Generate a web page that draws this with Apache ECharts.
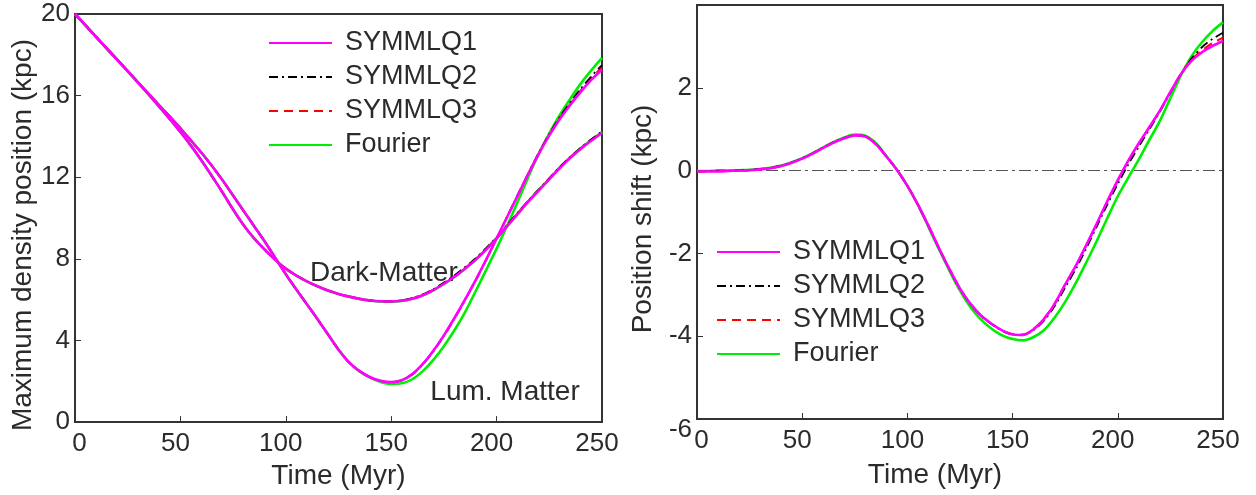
<!DOCTYPE html>
<html><head><meta charset="utf-8">
<script src="https://cdn.jsdelivr.net/npm/echarts@6/dist/echarts.min.js"></script>
<style>html,body{margin:0;padding:0;background:#fff}#c{width:1256px;height:495px}</style>
</head><body><div id="c"></div>
<script>
// ---- data ----
const time = [0,5,10,15,20,25,30,35,40,45,50,55,60,65,70,75,80,85,90,95,100,105,110,115,120,125,130,135,140,145,150,155,160,165,170,175,180,185,190,195,200,205,210,215,220,225,230,235,240,245,250];

// Left panel: Dark-Matter maximum density position (kpc)
const dmSym1    = [20.0,19.44,18.88,18.32,17.76,17.2,16.63,16.05,15.45,14.85,14.22,13.55,12.82,12.05,11.25,10.42,9.65,9.0,8.45,7.95,7.52,7.18,6.9,6.66,6.45,6.28,6.15,6.04,5.96,5.92,5.91,5.95,6.05,6.22,6.47,6.78,7.12,7.52,7.95,8.45,9.0,9.6,10.2,10.8,11.35,11.9,12.45,12.95,13.4,13.8,14.17];
const dmSym2    = [20.0,19.44,18.88,18.32,17.76,17.2,16.63,16.05,15.45,14.85,14.22,13.55,12.82,12.05,11.25,10.42,9.65,9.0,8.45,7.95,7.52,7.18,6.9,6.66,6.45,6.28,6.15,6.04,5.96,5.92,5.92,5.97,6.08,6.26,6.52,6.84,7.19,7.59,8.02,8.52,9.06,9.66,10.26,10.85,11.4,11.95,12.5,13.0,13.45,13.86,14.24];
const dmSym3    = [20.0,19.44,18.88,18.32,17.76,17.2,16.63,16.05,15.45,14.85,14.22,13.55,12.82,12.05,11.25,10.42,9.65,9.0,8.45,7.95,7.52,7.18,6.9,6.66,6.45,6.28,6.15,6.04,5.96,5.92,5.91,5.96,6.06,6.24,6.49,6.8,7.15,7.55,7.98,8.48,9.03,9.62,10.22,10.82,11.37,11.92,12.47,12.97,13.42,13.83,14.2];
const dmFourier = [20.0,19.44,18.88,18.32,17.76,17.2,16.63,16.05,15.45,14.85,14.22,13.55,12.82,12.05,11.25,10.42,9.65,9.0,8.45,7.95,7.52,7.18,6.9,6.66,6.45,6.28,6.15,6.04,5.96,5.91,5.9,5.94,6.04,6.21,6.46,6.77,7.11,7.51,7.95,8.46,9.02,9.62,10.22,10.82,11.38,11.93,12.48,12.98,13.43,13.84,14.22];

// Left panel: Luminous matter
const lmSym1    = [20.0,19.44,18.88,18.32,17.76,17.2,16.64,16.08,15.52,14.97,14.4,13.8,13.2,12.55,11.85,11.1,10.35,9.6,8.85,8.05,7.25,6.5,5.78,5.05,4.3,3.55,2.93,2.5,2.2,2.02,1.96,2.05,2.35,2.85,3.5,4.25,5.1,6.0,6.95,7.95,9.0,10.05,11.1,12.15,13.15,14.05,14.85,15.55,16.2,16.78,17.28];
const lmSym2    = [20.0,19.44,18.88,18.32,17.76,17.2,16.64,16.08,15.52,14.97,14.4,13.8,13.2,12.55,11.85,11.1,10.35,9.6,8.85,8.05,7.25,6.5,5.78,5.05,4.3,3.55,2.93,2.5,2.2,2.02,1.95,2.04,2.33,2.83,3.47,4.22,5.07,5.97,6.93,7.94,9.0,10.07,11.13,12.19,13.2,14.12,14.95,15.68,16.35,16.95,17.5];
const lmSym3    = [20.0,19.44,18.88,18.32,17.76,17.2,16.64,16.08,15.52,14.97,14.4,13.8,13.2,12.55,11.85,11.1,10.35,9.6,8.85,8.05,7.25,6.5,5.78,5.05,4.3,3.55,2.93,2.5,2.2,2.02,1.96,2.05,2.34,2.84,3.49,4.24,5.09,5.99,6.94,7.95,9.0,10.06,11.12,12.17,13.17,14.08,14.9,15.6,16.27,16.86,17.4];
const lmFourier = [20.0,19.44,18.88,18.32,17.76,17.2,16.64,16.08,15.52,14.97,14.4,13.8,13.2,12.55,11.85,11.1,10.35,9.6,8.85,8.05,7.25,6.5,5.78,5.05,4.3,3.56,2.93,2.48,2.18,1.97,1.87,1.9,2.1,2.5,3.05,3.72,4.5,5.38,6.4,7.45,8.5,9.62,10.8,12.0,13.15,14.15,15.05,15.85,16.6,17.25,17.85];

// Right panel: position shift (kpc)
const psSym1    = [-0.02,-0.02,-0.02,-0.01,0.0,0.01,0.03,0.06,0.11,0.19,0.29,0.41,0.55,0.68,0.78,0.85,0.82,0.64,0.34,0.02,-0.37,-0.82,-1.33,-1.87,-2.38,-2.85,-3.22,-3.5,-3.7,-3.86,-3.96,-3.97,-3.83,-3.58,-3.22,-2.75,-2.3,-1.8,-1.28,-0.74,-0.23,0.24,0.66,1.05,1.45,1.9,2.33,2.65,2.86,3.01,3.13];
const psSym2    = [-0.01,-0.01,0.0,0.0,0.01,0.02,0.04,0.07,0.12,0.2,0.3,0.42,0.56,0.69,0.79,0.86,0.83,0.65,0.35,0.02,-0.37,-0.83,-1.34,-1.88,-2.39,-2.86,-3.23,-3.51,-3.71,-3.87,-3.96,-3.97,-3.85,-3.62,-3.27,-2.82,-2.38,-1.88,-1.35,-0.82,-0.32,0.15,0.58,1.0,1.42,1.88,2.33,2.7,2.98,3.18,3.33];
const psSym3    = [-0.03,-0.02,-0.01,-0.01,0.0,0.01,0.03,0.06,0.11,0.19,0.29,0.41,0.55,0.68,0.78,0.85,0.82,0.64,0.34,0.02,-0.37,-0.82,-1.33,-1.87,-2.38,-2.85,-3.22,-3.5,-3.7,-3.86,-3.95,-3.96,-3.82,-3.57,-3.21,-2.75,-2.31,-1.81,-1.29,-0.75,-0.24,0.23,0.65,1.05,1.45,1.9,2.34,2.68,2.9,3.08,3.21];
const psFourier = [-0.01,-0.01,0.0,0.0,0.01,0.02,0.04,0.07,0.12,0.2,0.3,0.42,0.56,0.69,0.8,0.87,0.84,0.66,0.35,0.02,-0.37,-0.83,-1.36,-1.9,-2.42,-2.9,-3.3,-3.6,-3.82,-3.98,-4.07,-4.1,-4.02,-3.85,-3.55,-3.17,-2.72,-2.22,-1.7,-1.15,-0.62,-0.17,0.27,0.74,1.2,1.75,2.3,2.76,3.1,3.37,3.58];

const legendNames = ['SYMMLQ1','SYMMLQ2','SYMMLQ3','Fourier'];

// ---- styles ----
const FONT = '"Liberation Sans", Arial, Helvetica, sans-serif';
const TXT = '#2b2b2b';
const styles = {
  'SYMMLQ1': {color:'#ff00ff', width:2.6, type:'solid', z:5},
  'SYMMLQ2': {color:'#000000', width:1.8, type:[9,4,2,4], z:4},
  'SYMMLQ3': {color:'#ff0000', width:2.0, type:[9,6], z:3},
  'Fourier': {color:'#00ee00', width:2.6, type:'solid', z:2}
};
function pairs(v){ return time.map((t,i)=>[t,v[i]]); }
function mk(name, vals, idx, extra){
  const s = styles[name];
  return Object.assign({
    name, type:'line', xAxisIndex:idx, yAxisIndex:idx, data:pairs(vals),
    smooth:0.3, symbol:'none', showSymbol:false, z:s.z,
    lineStyle:{color:s.color, width:s.width, type:s.type},
    itemStyle:{color:s.color}
  }, extra||{});
}

const labelAnno = (text)=>({show:true, formatter:text, position:'inside', color:TXT, fontSize:28, fontFamily:FONT});

const series = [
  mk('Fourier', dmFourier, 0), mk('Fourier', lmFourier, 0),
  mk('SYMMLQ3', dmSym3, 0), mk('SYMMLQ3', lmSym3, 0),
  mk('SYMMLQ2', dmSym2, 0), mk('SYMMLQ2', lmSym2, 0),
  mk('SYMMLQ1', dmSym1, 0, {markPoint:{silent:true, symbol:'circle', symbolSize:0, data:[
      {coord:[146.5,7.3], label:labelAnno('Dark-Matter')},
      {coord:[204,1.45], label:labelAnno('Lum. Matter')}
    ]}}),
  mk('SYMMLQ1', lmSym1, 0),
  mk('Fourier', psFourier, 1),
  mk('SYMMLQ3', psSym3, 1),
  mk('SYMMLQ2', psSym2, 1),
  mk('SYMMLQ1', psSym1, 1, {markLine:{silent:true, symbol:'none', label:{show:false},
      lineStyle:{color:'#555', width:1.2, type:[12,4,3,4]}, data:[{yAxis:0}]}})
];

const axisCommon = {
  axisLine:{show:true, onZero:false, lineStyle:{color:'#333', width:2}},
  axisTick:{show:true, inside:true, length:6, lineStyle:{color:'#333', width:1}},
  splitLine:{show:false},
  axisLabel:{color:TXT, fontSize:26, fontFamily:FONT}
};
const xLabel = Object.assign({}, axisCommon.axisLabel, {margin:9,
  formatter:(v)=> v===0 ? '{z|0}' : '{a|'+v+'}',
  rich:{z:{color:TXT, fontSize:26, fontFamily:FONT, padding:[0,0,0,9]},
        a:{color:TXT, fontSize:26, fontFamily:FONT, padding:[0,10,0,0]}}});

const legendCommon = {
  orient:'vertical', data:legendNames, itemWidth:63, itemHeight:14, itemGap:6,
  selectedMode:false, itemStyle:{opacity:0},
  textStyle:{color:TXT, fontSize:27, fontFamily:FONT, lineHeight:28, padding:[0,0,0,8]}
};

const option = {
  animation:false,
  backgroundColor:'#fff',
  grid:[
    {left:75, top:14, width:527, height:415, show:true, borderColor:'#333', borderWidth:2, containLabel:false},
    {left:697, top:5, width:526, height:414, show:true, borderColor:'#333', borderWidth:2, containLabel:false}
  ],
  legend:[
    Object.assign({left:263, top:24}, legendCommon),
    Object.assign({left:711, top:233}, legendCommon)
  ],
  xAxis:[
    Object.assign({}, axisCommon, {gridIndex:0, type:'value', min:0, max:250, interval:50,
      name:'Time (Myr)', nameLocation:'middle', nameGap:36,
      nameTextStyle:{color:TXT, fontSize:28, fontFamily:FONT},
      axisLabel:xLabel}),
    Object.assign({}, axisCommon, {gridIndex:1, type:'value', min:0, max:250, interval:50,
      name:'Time (Myr)', nameLocation:'middle', nameGap:42,
      nameTextStyle:{color:TXT, fontSize:28, fontFamily:FONT, padding:[0,50,0,0]},
      axisLabel:xLabel})
  ],
  yAxis:[
    Object.assign({}, axisCommon, {gridIndex:0, type:'value', min:0, max:20, interval:4,
      name:'Maximum density position (kpc)', nameLocation:'middle', nameGap:38,
      nameTextStyle:{color:TXT, fontSize:28, fontFamily:FONT, padding:[0,34,0,0]},
      axisLabel:Object.assign({}, axisCommon.axisLabel, {margin:5})}),
    Object.assign({}, axisCommon, {gridIndex:1, type:'value', min:-6, max:4, interval:2,
      name:'Position shift (kpc)', nameLocation:'middle', nameGap:40,
      nameTextStyle:{color:TXT, fontSize:28, fontFamily:FONT, padding:[0,14,0,0]},
      axisLabel:Object.assign({}, axisCommon.axisLabel, {margin:5,
        formatter:(v)=> v===4 ? '' : (v===-6 ? '{low|-6}' : String(v)),
        rich:{low:{color:TXT, fontSize:26, fontFamily:FONT, padding:[22,0,0,0]}}})})
  ],
  series
};

const chart = echarts.init(document.getElementById('c'), null, {renderer:'canvas'});
chart.setOption(option);
</script>
</body></html>
